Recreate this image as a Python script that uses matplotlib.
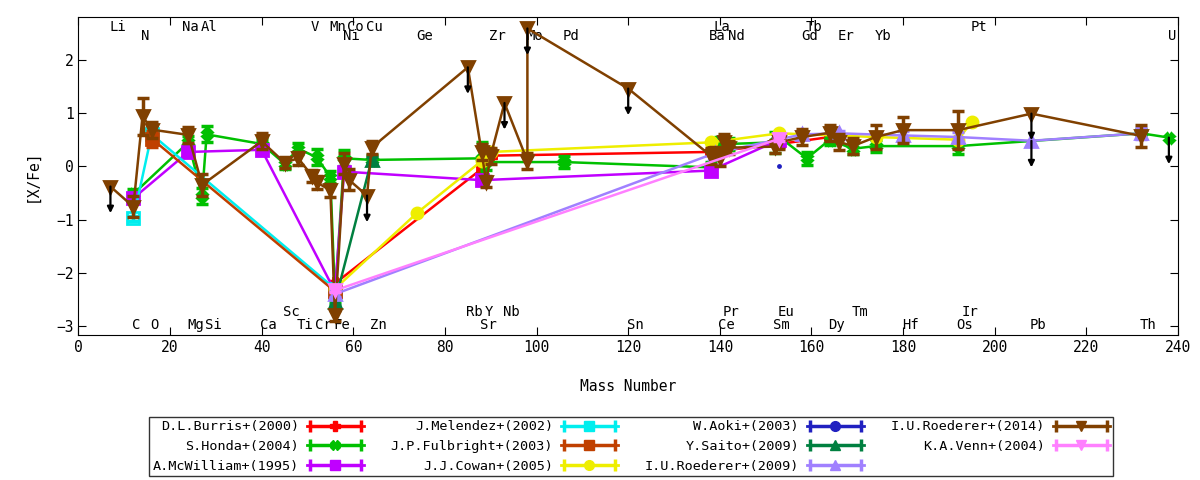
"""
abundance pattern plot - [X/Fe] vs mass number, several literature sources
"""
import numpy as np
import matplotlib; matplotlib.use('Agg')
import matplotlib.pyplot as plt
from matplotlib.legend_handler import HandlerErrorbar
from matplotlib.container import ErrorbarContainer

# mass number used for each element (most abundant isotope)
MASS = {'Li': 7, 'C': 12, 'N': 14, 'O': 16, 'Na': 23, 'Mg': 24, 'Al': 27, 'Si': 28,
        'Ca': 40, 'Sc': 45, 'Ti': 48, 'V': 51, 'Cr': 52, 'Mn': 55, 'Fe': 56, 'Ni': 58,
        'Co': 59, 'Cu': 63, 'Zn': 64, 'Ge': 74, 'Rb': 85, 'Sr': 88, 'Y': 89, 'Zr': 90,
        'Nb': 93, 'Mo': 98, 'Pd': 106, 'Sn': 120, 'Ba': 138, 'La': 139, 'Ce': 140,
        'Pr': 141, 'Nd': 142, 'Sm': 152, 'Eu': 153, 'Gd': 158, 'Tb': 159, 'Dy': 164,
        'Er': 166, 'Tm': 169, 'Yb': 174, 'Hf': 180, 'Os': 192, 'Ir': 193, 'Pt': 195,
        'Pb': 208, 'Th': 232, 'U': 238}

# element name rows (top, second, lower-upper, bottom)
labels_top = ['Li', 'Na', 'Al', 'V', 'Mn', 'Co', 'Cu', 'La', 'Tb', 'Pt']
labels_second = ['N', 'Ni', 'Ge', 'Zr', 'Mo', 'Pd', 'Ba', 'Nd', 'Gd', 'Er', 'Yb', 'U']
labels_low = ['Sc', 'Rb', 'Y', 'Nb', 'Pr', 'Eu', 'Tm', 'Ir']
labels_bottom = ['C', 'O', 'Mg', 'Si', 'Ca', 'Ti', 'Cr', 'Fe', 'Zn', 'Sr', 'Sn', 'Ce',
                 'Sm', 'Dy', 'Hf', 'Os', 'Pb', 'Th']

# ---- series data ----
burris_el = ['Fe', 'Sr', 'Zr', 'Ba', 'Eu', 'Dy']
burris_val = [-2.20, -0.05, 0.20, 0.27, 0.42, 0.55]
burris_err = [0.05, 0.05, 0.05, 0.05, 0.05, 0.05]
burris_ul = []

honda_el = ['C', 'Mg', 'Al', 'Si', 'Ca', 'Sc', 'Ti', 'Cr', 'Mn', 'Fe', 'Ni', 'Zn', 'Sr', 'Y',
            'Pd', 'Ba', 'Ce', 'Nd', 'Sm', 'Eu', 'Tb', 'Dy', 'Tm', 'Yb', 'Os', 'Th', 'U']
honda_val = [-0.52, 0.45, -0.55, 0.60, 0.42, 0.05, 0.33, 0.17, -0.20, -2.45, 0.15, 0.12,
             0.15, 0.08, 0.08, -0.02, 0.40, 0.42, 0.45, 0.55, 0.15, 0.50, 0.33, 0.38,
             0.38, 0.62, 0.54]
honda_err = [0.10, 0.12, 0.15, 0.15, 0.10, 0.10, 0.10, 0.15, 0.12, 0.10, 0.15, 0.10,
             0.30, 0.15, 0.12, 0.10, 0.15, 0.12, 0.20, 0.10, 0.12, 0.10, 0.10, 0.12,
             0.15, 0.08, 0.0]
honda_ul = ['U']

mcw_el = ['C', 'Mg', 'Ca', 'Fe', 'Ni', 'Sr', 'Ba', 'Eu']
mcw_val = [-0.60, 0.27, 0.31, -2.35, -0.10, -0.26, -0.08, 0.50]
mcw_err = [0.04] * 8
mcw_ul = []

melendez_el = ['C', 'O', 'Fe']
melendez_val = [-0.98, 0.60, -2.30]
melendez_err = [0.04, 0.04, 0.04]
melendez_ul = []

fulbright_el = ['O', 'Fe']
fulbright_val = [0.52, -2.35]
fulbright_err = [0.15, 0.04]
fulbright_ul = []

cowan_el = ['Fe', 'Ge', 'Sr', 'Zr', 'Ba', 'Eu', 'Yb', 'Os', 'Pt']
cowan_val = [-2.30, -0.87, 0.10, 0.27, 0.45, 0.62, 0.55, 0.50, 0.84]
cowan_err = [0.0] * 9
cowan_ul = []

aoki_el = ['Eu']
aoki_val = [0.01]
aoki_err = [0.0]
aoki_ul = []

saito_el = ['Fe', 'Zn']
saito_val = [-2.55, 0.12]
saito_err = [0.05, 0.05]
saito_ul = []

roed09_el = ['Fe', 'La', 'Gd', 'Er', 'Hf', 'Os', 'Pb', 'Th']
roed09_val = [-2.40, 0.25, 0.60, 0.62, 0.58, 0.55, 0.48, 0.62]
roed09_err = [0.05, 0.05, 0.05, 0.05, 0.08, 0.10, 0.0, 0.10]
roed09_ul = ['Pb']

roed14_el = ['Li', 'C', 'N', 'O', 'Mg', 'Al', 'Ca', 'Sc', 'Ti', 'V', 'Cr', 'Mn', 'Fe',
             'Ni', 'Co', 'Cu', 'Zn', 'Rb', 'Sr', 'Y', 'Zr', 'Nb', 'Mo', 'Mo', 'Sn',
             'Ba', 'La', 'Ce', 'Pr', 'Nd', 'Sm', 'Eu', 'Gd', 'Dy', 'Er', 'Tm', 'Yb',
             'Hf', 'Os', 'Pb', 'Th']
roed14_val = [-0.38, -0.76, 0.94, 0.69, 0.59, -0.35, 0.47, 0.07, 0.15, -0.18, -0.30,
              -0.45, -2.80, 0.05, -0.25, -0.55, 0.35, 1.86, 0.27, -0.29, 0.20, 1.19,
              0.10, 2.59, 1.46, 0.20, 0.25, 0.15, 0.45, 0.35, 0.37, 0.45, 0.55, 0.63,
              0.46, 0.38, 0.55, 0.68, 0.68, 0.99, 0.57]
roed14_err = [0.0, 0.20, 0.35, 0.15, 0.15, 0.20, 0.15, 0.10, 0.12, 0.12, 0.12, 0.12,
              0.10, 0.20, 0.20, 0.0, 0.12, 0.0, 0.15, 0.10, 0.15, 0.0, 0.15, 0.0, 0.0,
              0.15, 0.12, 0.15, 0.15, 0.12, 0.12, 0.12, 0.15, 0.15, 0.15, 0.15, 0.22,
              0.25, 0.35, 0.0, 0.20]
roed14_ul = [0, 15, 17, 21, 23, 24, 39]  # indices of upper limits

venn_el = ['Fe', 'Eu']
venn_val = [-2.33, 0.52]
venn_err = [0.04, 0.04]
venn_ul = []

SERIES = [
    ('D.L.Burris+(2000)', burris_el, burris_val, burris_err, burris_ul, '#ff0000', 'P', 7),
    ('S.Honda+(2004)', honda_el, honda_val, honda_err, honda_ul, '#00c000', 'X', 7),
    ('A.McWilliam+(1995)', mcw_el, mcw_val, mcw_err, mcw_ul, '#c000ff', 's', 8),
    ('J.Melendez+(2002)', melendez_el, melendez_val, melendez_err, melendez_ul, '#00eeee', 's', 8),
    ('J.P.Fulbright+(2003)', fulbright_el, fulbright_val, fulbright_err, fulbright_ul, '#c04000', 's', 8),
    ('J.J.Cowan+(2005)', cowan_el, cowan_val, cowan_err, cowan_ul, '#eeee00', 'o', 8),
    ('W.Aoki+(2003)', aoki_el, aoki_val, aoki_err, aoki_ul, '#2020c0', 'o', 1.5),
    ('Y.Saito+(2009)', saito_el, saito_val, saito_err, saito_ul, '#008040', '^', 8),
    ('I.U.Roederer+(2009)', roed09_el, roed09_val, roed09_err, roed09_ul, '#a080ff', '^', 8),
    ('I.U.Roederer+(2014)', roed14_el, roed14_val, roed14_err, roed14_ul, '#804000', 'v', 8),
    ('K.A.Venn+(2004)', venn_el, venn_val, venn_err, venn_ul, '#ff80ff', 'v', 8),
]

plt.rcParams['font.family'] = 'DejaVu Sans Mono'
plt.rcParams['font.size'] = 10

fig = plt.figure(figsize=(12, 4.8), dpi=100)
ax = fig.add_axes([0.0653, 0.302, 0.9164, 0.662])

# element labels, left justified at mass number
for row, yy in ((labels_top, 2.61), (labels_second, 2.44), (labels_low, -2.73), (labels_bottom, -2.98)):
    for el in row:
        ax.text(MASS[el] - 0.3, yy, el, ha='left', va='center', fontsize=10, zorder=1)

handles = []
for i, (name, els, vals, errs, uls, col, mk, ms) in enumerate(SERIES):
    xs = np.array([MASS[e] for e in els], dtype=float)
    vals = np.array(vals); errs = np.array(errs)
    z = 3 + i
    mfc = 'none' if name.startswith('J.Melendez') else col
    ax.plot(xs, vals, '-', marker=mk, color=col, lw=1.8, ms=ms, mfc=mfc, mew=2, zorder=z)
    has = errs > 0
    if has.any():
        ax.errorbar(xs[has], vals[has], yerr=errs[has], fmt='none', ecolor=col,
                    elinewidth=2.5, capsize=4, capthick=2.5, zorder=z)
    # upper limits: black arrows
    for k in uls:
        j = k if isinstance(k, int) else els.index(k)
        ax.annotate('', xy=(xs[j], vals[j] - 0.5), xytext=(xs[j], vals[j]),
                    arrowprops=dict(arrowstyle='-|>', color='k', lw=1.6, mutation_scale=9,
                                    shrinkA=0, shrinkB=0), zorder=z)
    h = ax.errorbar([np.nan], [np.nan], xerr=[1.0], fmt='-' + mk, color=col, lw=2, ms=7,
                    mfc=col, elinewidth=2.5, capsize=4, capthick=2.5)
    handles.append(h)

ax.set_xlim(0, 240)
ax.set_ylim(-3.17, 2.80)
ax.set_xticks(np.arange(0, 241, 20))
ax.set_yticks([-3, -2, -1, 0, 1, 2])
ax.tick_params(direction='in', length=6, top=True, right=True, labelsize=10.5)
ax.set_xlabel('Mass Number', fontsize=10.5, labelpad=17)
ax.set_ylabel('[X/Fe]', fontsize=10.5, labelpad=12)

leg = fig.legend(handles, [s[0] for s in SERIES], ncol=4, loc='lower center',
                 bbox_to_anchor=(0.526, -0.006), markerfirst=False, frameon=True,
                 fancybox=False, edgecolor='black', fontsize=9.7, handlelength=4.2,
                 columnspacing=2.0, labelspacing=0.5, borderpad=0.25, handletextpad=0.6,
                 handler_map={ErrorbarContainer: HandlerErrorbar(xerr_size=1.9)})
leg.get_frame().set_linewidth(1.0)

plt.savefig('out.png', dpi=100)
plt.close()
